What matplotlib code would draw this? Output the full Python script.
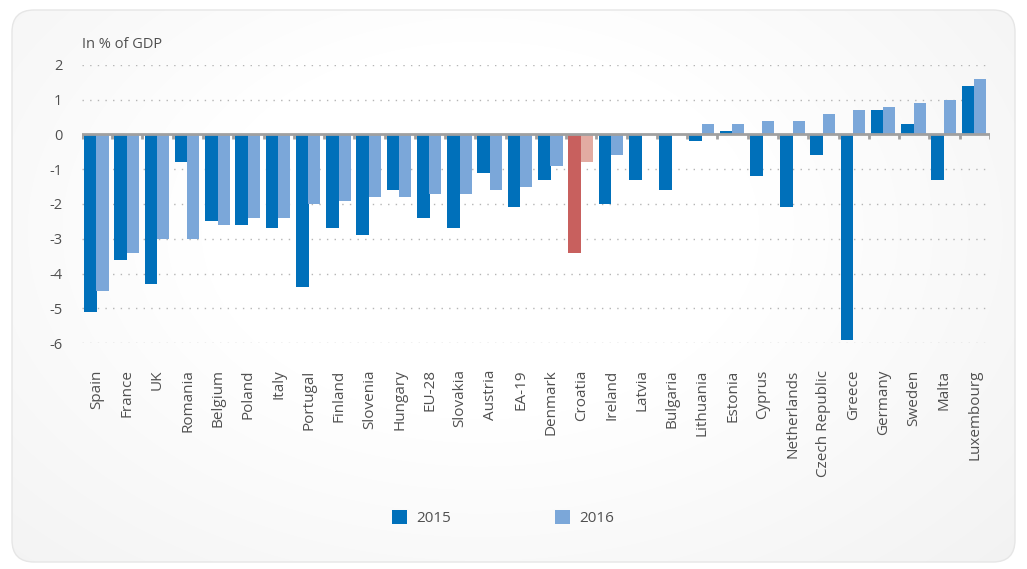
import matplotlib
matplotlib.use("Agg")
import matplotlib.pyplot as plt
import numpy as np
from matplotlib.patches import FancyBboxPatch

plt.rcParams['font.family'] = ['Open Sans', 'DejaVu Sans']
plt.rcParams['axes.unicode_minus'] = False

categories = ["Spain", "France", "UK", "Romania", "Belgium", "Poland", "Italy",
              "Portugal", "Finland", "Slovenia", "Hungary", "EU-28", "Slovakia",
              "Austria", "EA-19", "Denmark", "Croatia", "Ireland", "Latvia",
              "Bulgaria", "Lithuania", "Estonia", "Cyprus", "Netherlands",
              "Czech Republic", "Greece", "Germany", "Sweden", "Malta", "Luxembourg"]
values_2015 = [-5.1, -3.6, -4.3, -0.8, -2.5, -2.6, -2.7, -4.4, -2.7, -2.9, -1.6,
               -2.4, -2.7, -1.1, -2.1, -1.3, -3.4, -2.0, -1.3, -1.6, -0.2, 0.1,
               -1.2, -2.1, -0.6, -5.9, 0.7, 0.3, -1.3, 1.4]
values_2016 = [-4.5, -3.4, -3.0, -3.0, -2.6, -2.4, -2.4, -2.0, -1.9, -1.8, -1.8,
               -1.7, -1.7, -1.6, -1.5, -0.9, -0.8, -0.6, 0.0, 0.0, 0.3, 0.3,
               0.4, 0.4, 0.6, 0.7, 0.8, 0.9, 1.0, 1.6]
series_labels = ["2015", "2016"]
y_ticks = [2, 1, 0, -1, -2, -3, -4, -5, -6]
highlight = "Croatia"

C2015 = "#0070BA"
C2016 = "#7BA7D9"
H2015 = "#C8605E"
H2016 = "#E2ABA2"
TEXT = "#505050"

fig = plt.figure(figsize=(10.27, 5.69), dpi=100)
fig.patch.set_facecolor("white")

# rounded card background with subtle gradient
bgax = fig.add_axes([0, 0, 1, 1], zorder=-10)
bgax.set_xlim(0, 1027)
bgax.set_ylim(569, 0)
bgax.axis("off")
card = FancyBboxPatch((12, 10), 1003, 552, boxstyle="round,pad=0,rounding_size=22",
                      facecolor="none", edgecolor="#E6E6E6", linewidth=1.0)
bgax.add_patch(card)
yy, xx = np.mgrid[0:569, 0:1027]
d = np.sqrt(((xx - 480) / 620.0) ** 2 + ((yy - 230) / 420.0) ** 2)
g = np.clip(1.0 - 0.07 * np.clip(d - 0.45, 0, None), 0.92, 1.0)
img = np.dstack([g, g, g])
im = bgax.imshow(img, extent=(0, 1027, 569, 0), aspect="auto", interpolation="bilinear")
im.set_clip_path(card)

ax = fig.add_axes([0.0798, 0.397, 0.884, 0.489])
ax.patch.set_alpha(0)
x = np.arange(len(categories))
w = 0.40
c15 = [H2015 if c == highlight else C2015 for c in categories]
c16 = [H2016 if c == highlight else C2016 for c in categories]
ax.bar(x - w / 2 - 0.02, values_2015, width=w + 0.02, color=c15, zorder=3, label=series_labels[0])
ax.bar(x + w / 2 - 0.02, values_2016, width=w, color=c16, zorder=3, label=series_labels[1])

ax.set_xlim(-0.5, len(categories) - 0.5)
ax.set_ylim(-6, 2)
ax.set_yticks(y_ticks)
ax.set_yticklabels([str(t) for t in y_ticks], fontsize=10.5, color=TEXT)
for t in y_ticks:
    if t != 0:
        ax.axhline(t, color="#B5B5B5", linewidth=1.0, linestyle=(0, (1, 4.5)), zorder=1)
ax.axhline(0, color="#A0A0A0", linewidth=2.0, zorder=4)
ax.vlines(np.arange(len(categories) + 1) - 0.5, -0.13, 0, color="#A0A0A0", linewidth=2.0, zorder=4)

ax.tick_params(axis="y", length=0, pad=14)
ax.set_xticks(x)
ax.set_xticklabels(categories, rotation=90, fontsize=11, color=TEXT, va="top", ha="center")
ax.tick_params(axis="x", length=0, pad=19)
for s in ax.spines.values():
    s.set_visible(False)

fig.text(82 / 1027, 1 - 44 / 569, "In % of GDP", fontsize=10.5, color=TEXT, va="center", ha="left")

# legend
handles, labels = ax.get_legend_handles_labels()
fig.legend(handles, labels, ncol=2, loc="center", bbox_to_anchor=(503 / 1027, 1 - 518 / 569),
           frameon=False, fontsize=11, handlelength=1.0, handleheight=1.0, columnspacing=6.8,
           handletextpad=0.6, labelcolor=TEXT)

fig.savefig("out.png", dpi=100)
